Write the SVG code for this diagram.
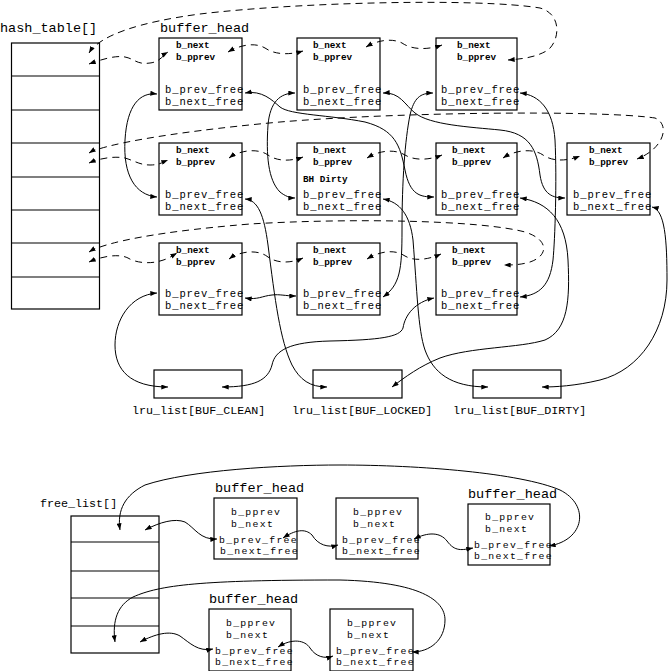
<svg xmlns="http://www.w3.org/2000/svg" width="670" height="671" viewBox="0 0 670 671">
<style>
.bx{fill:#fff;stroke:#000;stroke-width:1.2}
.ln{stroke:#000;stroke-width:1.2}
.lbl{font-family:"Liberation Mono",monospace;font-size:13.5px;fill:#000}
.sm{font-family:"Liberation Mono",monospace;font-size:9.3px;font-weight:bold;fill:#000}
.fr{font-family:"Liberation Mono",monospace;font-size:10.5px;letter-spacing:0.9px;fill:#000}
.fb{font-family:"Liberation Mono",monospace;font-size:9.8px;letter-spacing:1.3px;fill:#000}
.lru{font-family:"Liberation Mono",monospace;font-size:11.7px;fill:#000}
.c{fill:none;stroke:#000;stroke-width:1;marker-start:url(#ah);marker-end:url(#ah)}
.d{stroke-dasharray:7 5}
</style>
<defs>
<marker id="ah" viewBox="0 0 8 6" markerWidth="7" markerHeight="5" refX="8" refY="3" orient="auto-start-reverse" markerUnits="userSpaceOnUse">
<path d="M0,0 L8,3 L0,6 z" fill="#000"/>
</marker>
</defs>
<rect width="670" height="671" fill="#fff"/>

<g id="hash_table">
<text class="lbl" x="0" y="32">hash_table[]</text>
<rect class="bx" x="11.5" y="43" width="88" height="266"/>
<path class="ln" d="M11.5,76H99.5M11.5,110H99.5M11.5,143H99.5M11.5,177H99.5M11.5,210H99.5M11.5,243H99.5M11.5,277H99.5"/>
</g>
<text class="lbl" x="160" y="32">buffer_head</text>

<g id="bh_r1c1"><rect class="bx" x="159" y="38" width="83" height="72"/><text class="sm" x="176" y="48">b_next</text><text class="sm" x="176" y="60">b_pprev</text><text class="fr" x="165" y="93">b_prev_free</text><text class="fr" x="165" y="105">b_next_free</text></g>
<g id="bh_r1c2"><rect class="bx" x="297" y="38" width="83" height="72"/><text class="sm" x="313" y="48">b_next</text><text class="sm" x="313" y="60">b_pprev</text><text class="fr" x="303" y="93">b_prev_free</text><text class="fr" x="303" y="105">b_next_free</text></g>
<g id="bh_r1c3"><rect class="bx" x="436" y="38" width="81" height="72"/><text class="sm" x="457" y="48">b_next</text><text class="sm" x="457" y="60">b_pprev</text><text class="fr" x="441" y="93">b_prev_free</text><text class="fr" x="441" y="105">b_next_free</text></g>

<g id="bh_r2c1"><rect class="bx" x="159" y="143" width="83" height="72"/><text class="sm" x="176" y="153">b_next</text><text class="sm" x="176" y="165">b_pprev</text><text class="fr" x="165" y="198">b_prev_free</text><text class="fr" x="165" y="210">b_next_free</text></g>
<g id="bh_r2c2"><rect class="bx" x="297" y="143" width="83" height="72"/><text class="sm" x="313" y="153">b_next</text><text class="sm" x="313" y="165">b_pprev</text><text class="sm" x="303" y="182">BH Dirty</text><text class="fr" x="303" y="198">b_prev_free</text><text class="fr" x="303" y="210">b_next_free</text></g>
<g id="bh_r2c3"><rect class="bx" x="436" y="143" width="81" height="72"/><text class="sm" x="452" y="153">b_next</text><text class="sm" x="452" y="165">b_pprev</text><text class="fr" x="441" y="198">b_prev_free</text><text class="fr" x="441" y="210">b_next_free</text></g>
<g id="bh_r2c4"><rect class="bx" x="567" y="143" width="83" height="72"/><text class="sm" x="589" y="153">b_next</text><text class="sm" x="589" y="165">b_pprev</text><text class="fr" x="573" y="198">b_prev_free</text><text class="fr" x="573" y="210">b_next_free</text></g>

<g id="bh_r3c1"><rect class="bx" x="159" y="243" width="83" height="72"/><text class="sm" x="176" y="253">b_next</text><text class="sm" x="176" y="265">b_pprev</text><text class="fr" x="165" y="297">b_prev_free</text><text class="fr" x="165" y="309">b_next_free</text></g>
<g id="bh_r3c2"><rect class="bx" x="297" y="243" width="83" height="72"/><text class="sm" x="313" y="253">b_next</text><text class="sm" x="313" y="265">b_pprev</text><text class="fr" x="303" y="297">b_prev_free</text><text class="fr" x="303" y="309">b_next_free</text></g>
<g id="bh_r3c3"><rect class="bx" x="436" y="243" width="81" height="72"/><text class="sm" x="452" y="253">b_next</text><text class="sm" x="452" y="265">b_pprev</text><text class="fr" x="441" y="297">b_prev_free</text><text class="fr" x="441" y="309">b_next_free</text></g>

<g id="lru_clean"><rect class="bx" x="154" y="370" width="88" height="28"/><text class="lru" x="132" y="414">lru_list[BUF_CLEAN]</text></g>
<g id="lru_locked"><rect class="bx" x="313" y="370" width="89" height="28"/><text class="lru" x="292" y="414">lru_list[BUF_LOCKED]</text></g>
<g id="lru_dirty"><rect class="bx" x="473" y="370" width="88" height="28"/><text class="lru" x="453" y="414">lru_list[BUF_DIRTY]</text></g>

<g id="free_list">
<text class="lru" x="40" y="507">free_list[]</text>
<rect class="bx" x="71" y="516" width="88" height="137"/>
<path class="ln" d="M71,542H159M71,571H159M71,598H159M71,626H159"/>
</g>
<g id="fb1"><text class="lbl" x="215" y="492">buffer_head</text><rect class="bx" x="214" y="498" width="83" height="61"/><text class="fb" x="231" y="515">b_pprev</text><text class="fb" x="231" y="527">b_next</text><text class="fb" x="219" y="543">b_prev_free</text><text class="fb" x="220" y="554">b_next_free</text></g>
<g id="fb2"><rect class="bx" x="336" y="498" width="82" height="61"/><text class="fb" x="353" y="515">b_pprev</text><text class="fb" x="353" y="527">b_next</text><text class="fb" x="342" y="543">b_prev_free</text><text class="fb" x="342" y="554">b_next_free</text></g>
<g id="fb3"><text class="lbl" x="468" y="498">buffer_head</text><rect class="bx" x="468" y="504" width="82" height="61"/><text class="fb" x="485" y="520">b_pprev</text><text class="fb" x="485" y="532">b_next</text><text class="fb" x="474" y="548">b_prev_free</text><text class="fb" x="474" y="559">b_next_free</text></g>
<g id="fb4"><text class="lbl" x="209" y="603">buffer_head</text><rect class="bx" x="209" y="609" width="82" height="62"/><text class="fb" x="226" y="626">b_pprev</text><text class="fb" x="226" y="638">b_next</text><text class="fb" x="215" y="654">b_prev_free</text><text class="fb" x="215" y="665">b_next_free</text></g>
<g id="fb5"><rect class="bx" x="330" y="609" width="83" height="62"/><text class="fb" x="347" y="626">b_pprev</text><text class="fb" x="347" y="638">b_next</text><text class="fb" x="336" y="654">b_prev_free</text><text class="fb" x="336" y="665">b_next_free</text></g>

<g id="connectors">
<path class="c d" d="M89,53 C100,35 140,22 200,14 C300,2 480,-2 540,8 C562,14 560,40 548,50 C535,58 520,59 508,60"/>
<path class="c d" d="M89,64 C100,60 115,55 125,57 C135,59 137,65 150,63 C160,62 163,55 168,52"/>
<path class="c d" d="M228,52 C240,45 255,42 265,48 C275,55 290,55 303,51"/>
<path class="c d" d="M366,47 C378,40 392,38 402,43 C412,50 428,50 442,45"/>
<path class="c d" d="M89,153 C100,146 160,133 280,122 C400,112 600,110 655,118 C670,124 665,148 637,159"/>
<path class="c d" d="M89,163 C100,158 115,156 125,158 C135,161 140,165 150,165 C160,165 163,162 168,160"/>
<path class="c d" d="M229,158 C240,150 258,148 268,155 C278,162 292,161 303,157"/>
<path class="c d" d="M367,158 C380,150 395,149 405,155 C415,161 430,160 442,155"/>
<path class="c d" d="M503,158 C515,150 533,148 543,155 C553,162 568,161 580,156"/>
<path class="c d" d="M89,252 C100,245 140,233 250,224 C350,218 480,220 525,232 C550,240 548,256 530,262 C520,265 512,265 504,265"/>
<path class="c d" d="M89,262 C100,257 118,253 128,258 C136,263 150,264 160,261 C168,259 172,256 177,253"/>
<path class="c d" d="M229,259 C240,251 258,249 268,257 C278,264 292,263 303,258"/>
<path class="c d" d="M367,259 C380,251 395,249 405,256 C415,262 430,259 441,254"/>

<path class="c" d="M157,94 C140,92 127,105 125,140 C123,175 135,195 157,197"/>
<path class="c" d="M245,93 C262,90 272,100 280,107 C290,115 330,115 365,122 C395,130 400,145 405,170 C410,195 420,197 434,197"/>
<path class="c" d="M295,93 C280,93 270,102 268,125 C266,155 268,180 280,192 C285,196 290,198 295,198"/>
<path class="c" d="M433,93 C420,93 414,98 410,115 C405,140 402,180 402,230 C402,270 400,285 383,297"/>
<path class="c" d="M383,93 C400,92 405,105 415,113 C430,125 470,127 500,130 C530,133 537,150 540,175 C543,195 553,198 565,198"/>
<path class="c" d="M520,93 C540,95 553,110 555,140 C557,180 555,240 553,260 C550,285 540,295 520,297"/>
<path class="c" d="M520,198 C548,202 566,220 568,260 C570,300 568,330 545,340 C520,348 470,347 440,358 C420,366 405,377 392,387"/>
<path class="c" d="M652,207 C665,210 667,240 667,280 C667,330 640,370 600,380 C575,386 555,387 542,387"/>
<path class="c" d="M245,199 C258,200 264,215 268,245 C275,300 280,340 292,365 C300,380 310,387 327,387"/>
<path class="c" d="M383,199 C400,202 410,215 413,240 C417,290 418,330 425,350 C433,372 450,387 488,387"/>
<path class="c" d="M157,293 C130,295 115,320 115,345 C115,370 130,387 168,387"/>
<path class="c" d="M245,298 C258,300 262,296 272,295 C280,294 285,296 296,296"/>
<path class="c" d="M434,298 C415,302 405,315 403,328 C400,337 380,340 330,341 C290,342 275,350 272,365 C268,380 255,387 222,387"/>

<path class="c" d="M120,530 C117,510 125,495 145,485 C190,470 280,465 340,465 C420,465 520,473 560,490 C590,505 585,540 549,546"/>
<path class="c" d="M145,530 C160,522 175,518 185,522 C195,528 200,540 217,539"/>
<path class="c" d="M283,538 C295,530 305,528 312,535 C318,545 328,548 338,545"/>
<path class="c" d="M414,539 C428,532 440,532 447,541 C455,552 462,550 473,548"/>
<path class="c" d="M115,642 C112,620 118,605 133,597 C160,585 200,580 340,580 C420,582 445,600 445,620 C445,640 430,652 412,652"/>
<path class="c" d="M140,642 C155,634 170,630 180,636 C190,643 198,652 213,649"/>
<path class="c" d="M278,647 C292,638 305,640 310,648 C316,657 325,659 333,656"/>
</g>
</svg>
